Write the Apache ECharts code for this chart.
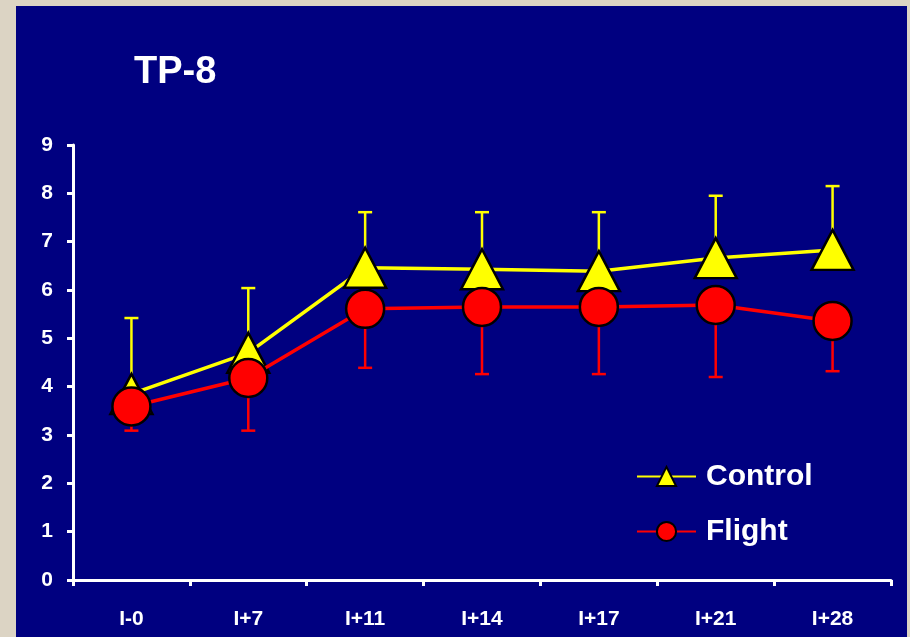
<!DOCTYPE html>
<html>
<head>
<meta charset="utf-8">
<script src="https://cdn.jsdelivr.net/npm/echarts@6/dist/echarts.min.js"></script>
<style>
html,body{margin:0;padding:0;width:910px;height:637px;overflow:hidden;background:#dcd4c4;}
#chart{position:absolute;left:16px;top:6px;width:891px;height:631px;}
</style>
</head>
<body>
<div id="chart"></div>
<script>
const categories = ['I-0','I+7','I+11','I+14','I+17','I+21','I+28'];
const controlMean = [3.85, 4.70, 6.46, 6.43, 6.39, 6.66, 6.83];
const controlUpper = [5.42, 6.04, 7.61, 7.61, 7.61, 7.95, 8.15];
const flightMean = [3.59, 4.18, 5.61, 5.65, 5.65, 5.69, 5.36];
const flightLower = [3.09, 3.09, 4.39, 4.26, 4.26, 4.20, 4.32];
const yTicks = [0, 9, 1];

const chart = echarts.init(document.getElementById('chart'));
const font = 'Liberation Sans, Arial, sans-serif';

function errSeries(name, mean, bound, color) {
  return {
    type: 'custom',
    name: name,
    z: 1,
    silent: true,
    data: mean.map((m, i) => [i, m, bound[i]]),
    renderItem: function (params, api) {
      const p0 = api.coord([api.value(0), api.value(1)]);
      const p1 = api.coord([api.value(0), api.value(2)]);
      const hw = 7;
      return {
        type: 'group',
        children: [
          {type: 'line', shape: {x1: p0[0], y1: p0[1], x2: p1[0], y2: p1[1]}, style: {stroke: color, lineWidth: 2.5}},
          {type: 'line', shape: {x1: p1[0] - hw, y1: p1[1], x2: p1[0] + hw, y2: p1[1]}, style: {stroke: color, lineWidth: 2.5}}
        ]
      };
    }
  };
}

chart.setOption({
  backgroundColor: '#000080',
  animation: false,
  title: {
    text: 'TP-8',
    left: 118,
    top: 48,
    padding: 0,
    textStyle: {color: '#ffffff', fontFamily: font, fontWeight: 'bold', fontSize: 38}
  },
  legend: {
    data: ['Control', 'Flight'],
    orient: 'vertical',
    left: 620,
    top: 455,
    padding: 0,
    itemWidth: 59,
    itemHeight: 24,
    itemGap: 24,
    textStyle: {color: '#ffffff', fontFamily: font, fontWeight: 'bold', fontSize: 30, lineHeight: 31, padding: [0, 0, 0, 5]}
  },
  grid: {left: 57, right: 16, top: 139, bottom: 57},
  xAxis: {
    type: 'category',
    data: categories,
    boundaryGap: true,
    axisLine: {lineStyle: {color: '#ffffff', width: 3}},
    axisTick: {show: true, length: 6, lineStyle: {color: '#ffffff', width: 3}},
    axisLabel: {color: '#ffffff', fontFamily: font, fontWeight: 'bold', fontSize: 21, margin: 29},
    splitLine: {show: false}
  },
  yAxis: {
    type: 'value',
    min: yTicks[0],
    max: yTicks[1],
    interval: yTicks[2],
    axisLine: {show: true, lineStyle: {color: '#ffffff', width: 3}},
    axisTick: {show: true, length: 6, lineStyle: {color: '#ffffff', width: 3}},
    axisLabel: {color: '#ffffff', fontFamily: font, fontWeight: 'bold', fontSize: 21, margin: 20},
    splitLine: {show: false}
  },
  series: [
    errSeries('ControlErr', controlMean, controlUpper, '#ffff00'),
    errSeries('FlightErr', flightMean, flightLower, '#ff0000'),
    {
      name: 'Control',
      type: 'line',
      z: 3,
      data: controlMean,
      symbol: 'triangle',
      symbolSize: [42, 40],
      lineStyle: {color: '#ffff00', width: 3.5},
      itemStyle: {color: '#ffff00', borderColor: '#000000', borderWidth: 2.5}
    },
    {
      name: 'Flight',
      type: 'line',
      z: 4,
      data: flightMean,
      symbol: 'circle',
      symbolSize: 38,
      lineStyle: {color: '#ff0000', width: 3.5},
      itemStyle: {color: '#ff0000', borderColor: '#000000', borderWidth: 2.5}
    }
  ]
});
</script>
</body>
</html>
